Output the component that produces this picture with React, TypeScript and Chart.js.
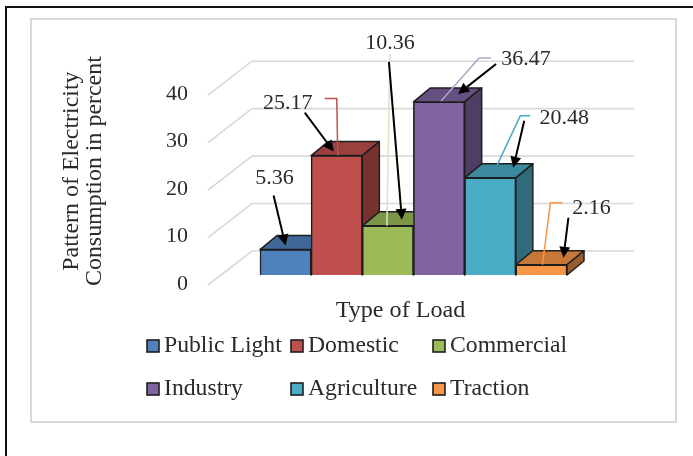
import React, { useEffect, useRef } from 'react';
import { Chart, registerables } from 'chart.js';

Chart.register(...registerables);

// ---------- data ----------
const categories = ['Public Light', 'Domestic', 'Commercial', 'Industry', 'Agriculture', 'Traction'];
const values = [5.36, 25.17, 10.36, 36.47, 20.48, 2.16];
const yTickValues = [0, 10, 20, 30, 40];
const xTitle = 'Type of Load';
const yTitle = ['Pattern of Electricity', 'Consumption in percent'];

// ---------- styles ----------
const colors = ['#4F81BD', '#C0504D', '#9BBB59', '#8064A2', '#4BACC6', '#F79646'];
const leaderColors = ['#4F81BD', '#C0504D', '#D9E4C4', '#B3A2C7', '#4BACC6', '#F79646'];
const FONT = 'Liberation Serif, Times New Roman, serif';
const TEXT = '#2a2a2a';
const DX = 17;
const DY = 14;

// callout offsets relative to the top-centre of each bar's front face
type Callout = { text: number[]; arrow: number[]; leader: number[][] | null };
const callouts: Callout[] = [
  { text: [-11, -71], arrow: [-12, -54, 0, -4], leader: null },
  { text: [-49, -52], arrow: [-32, -43, -3, -4], leader: [[-12, -57], [0, -57], [1, 0]] },
  { text: [2, -183], arrow: [1, -164, 14, -6], leader: [[2, -172], [-1, 0]] },
  { text: [87, -43], arrow: [57, -38, 19, -8], leader: [[52, -44], [40, -44], [2, -1]] },
  { text: [74, -60], arrow: [34, -57, 23, -10], leader: [[40, -62], [30, -62], [7, -13]] },
  { text: [50, -57], arrow: [27, -47, 22, -7], leader: [[21, -62], [9, -62], [1, 0]] },
];

function shade(hex: string, f: number) {
  const n = parseInt(hex.slice(1), 16);
  const r = Math.round(((n >> 16) & 255) * f);
  const g = Math.round(((n >> 8) & 255) * f);
  const b = Math.round((n & 255) * f);
  return `rgb(${r},${g},${b})`;
}

function drawArrow(ctx: CanvasRenderingContext2D, x1: number, y1: number, x2: number, y2: number) {
  const ang = Math.atan2(y2 - y1, x2 - x1);
  const hl = 11;
  const hw = 5.5;
  const bx = x2 - hl * Math.cos(ang);
  const by = y2 - hl * Math.sin(ang);
  ctx.save();
  ctx.strokeStyle = '#000';
  ctx.fillStyle = '#000';
  ctx.lineWidth = 2;
  ctx.beginPath();
  ctx.moveTo(x1, y1);
  ctx.lineTo(bx, by);
  ctx.stroke();
  ctx.beginPath();
  ctx.moveTo(x2, y2);
  ctx.lineTo(bx + hw * Math.sin(ang), by - hw * Math.cos(ang));
  ctx.lineTo(bx - hw * Math.sin(ang), by + hw * Math.cos(ang));
  ctx.closePath();
  ctx.fill();
  ctx.restore();
}

const threeDPlugin = {
  id: 'threeD',
  beforeDraw(chart: any) {
    const { ctx, width, height } = chart;
    ctx.save();
    ctx.fillStyle = '#fff';
    ctx.fillRect(0, 0, width, height);
    // outer frame
    ctx.strokeStyle = '#111';
    ctx.lineWidth = 2;
    ctx.beginPath();
    ctx.moveTo(6, height);
    ctx.lineTo(6, 7);
    ctx.lineTo(width, 7);
    ctx.stroke();
    // inner chart box
    ctx.strokeStyle = '#d9d9d9';
    ctx.lineWidth = 2;
    ctx.strokeRect(31, 19, 645, 403);
    ctx.restore();
  },
  beforeDatasetsDraw(chart: any) {
    const { ctx, chartArea, scales } = chart;
    const y = scales.y;
    const x0 = chartArea.left - 52;
    const x1 = chartArea.right + 67;
    ctx.save();
    ctx.strokeStyle = '#d9d9d9';
    ctx.lineWidth = 1.6;
    yTickValues.forEach((v) => {
      const yp = y.getPixelForValue(v);
      ctx.beginPath();
      ctx.moveTo(x0, yp + 10);
      ctx.lineTo(x0 + 44, yp - 24);
      ctx.lineTo(x1, yp - 24);
      ctx.stroke();
    });
    ctx.restore();
  },
  afterDatasetsDraw(chart: any) {
    const { ctx } = chart;
    const items: any[] = [];
    chart.data.datasets.forEach((ds: any, i: number) => {
      const el = chart.getDatasetMeta(i).data[0];
      if (el) items.push({ el, i });
    });
    items.sort((a, b) => a.el.x - b.el.x);
    ctx.save();
    items.forEach(({ el, i }) => {
      const { x, y, base, width } = el.getProps(['x', 'y', 'base', 'width'], true);
      const L = x - width / 2;
      const R = x + width / 2;
      el.draw(ctx);
      ctx.lineWidth = 1.5;
      ctx.strokeStyle = '#1e1e1e';
      ctx.lineJoin = 'round';
      // top face
      ctx.fillStyle = shade(colors[i], 0.8);
      ctx.beginPath();
      ctx.moveTo(L, y);
      ctx.lineTo(L + DX, y - DY);
      ctx.lineTo(R + DX, y - DY);
      ctx.lineTo(R, y);
      ctx.closePath();
      ctx.fill();
      ctx.stroke();
      // side face
      ctx.fillStyle = shade(colors[i], 0.62);
      ctx.beginPath();
      ctx.moveTo(R, y);
      ctx.lineTo(R + DX, y - DY);
      ctx.lineTo(R + DX, base - DY);
      ctx.lineTo(R, base);
      ctx.closePath();
      ctx.fill();
      ctx.stroke();
    });
    ctx.restore();
  },
  afterDraw(chart: any) {
    const { ctx, chartArea } = chart;
    ctx.save();
    // callouts
    chart.data.datasets.forEach((ds: any, i: number) => {
      const el = chart.getDatasetMeta(i).data[0];
      if (!el) return;
      const { x, y } = el.getProps(['x', 'y'], true);
      const c = callouts[i];
      if (c.leader) {
        ctx.strokeStyle = leaderColors[i];
        ctx.lineWidth = 1.5;
        ctx.beginPath();
        c.leader.forEach((p, k) => {
          if (k === 0) ctx.moveTo(x + p[0], y + p[1]);
          else ctx.lineTo(x + p[0], y + p[1]);
        });
        ctx.stroke();
      }
      drawArrow(ctx, x + c.arrow[0], y + c.arrow[1], x + c.arrow[2], y + c.arrow[3]);
      ctx.fillStyle = TEXT;
      ctx.font = `22px ${FONT}`;
      ctx.textAlign = 'center';
      ctx.textBaseline = 'middle';
      ctx.fillText(Number(ds.data[0]).toFixed(2), x + c.text[0], y + c.text[1]);
    });

    // axis titles
    ctx.fillStyle = TEXT;
    ctx.font = `23px ${FONT}`;
    ctx.textAlign = 'center';
    ctx.textBaseline = 'middle';
    ctx.save();
    ctx.translate((chartArea.left + chartArea.right) / 2 - 13, chartArea.bottom + 36);
    ctx.scale(1.05, 1);
    ctx.fillText(xTitle, 0, 0);
    ctx.restore();
    yTitle.forEach((line, k) => {
      ctx.save();
      ctx.translate(72 + k * 23, (chartArea.top + chartArea.bottom) / 2 - 9);
      ctx.rotate(-Math.PI / 2);
      ctx.scale(1.04, 1);
      ctx.fillText(line, 0, 0);
      ctx.restore();
    });

    // legend (3 columns x 2 rows)
    const colX = [147, 291, 433];
    const rowY = [346, 389];
    ctx.textAlign = 'left';
    chart.data.datasets.forEach((ds: any, i: number) => {
      const bx = colX[i % 3];
      const by = rowY[Math.floor(i / 3)];
      ctx.fillStyle = colors[i];
      ctx.fillRect(bx, by - 6, 12, 12);
      ctx.strokeStyle = '#1e1e1e';
      ctx.lineWidth = 1.6;
      ctx.strokeRect(bx, by - 6, 12, 12);
      ctx.fillStyle = TEXT;
      ctx.save();
      ctx.translate(bx + 17, by);
      ctx.scale(1.03, 1);
      ctx.fillText(ds.label, 0, 0);
      ctx.restore();
    });
    ctx.restore();
  },
};

export default function App() {
  const ref = useRef<HTMLCanvasElement>(null);
  useEffect(() => {
    if (!ref.current) return;
    const chart = new Chart(ref.current, {
      type: 'bar',
      data: {
        labels: [xTitle],
        datasets: categories.map((name, i) => ({
          label: name,
          data: [values[i]],
          backgroundColor: colors[i],
          borderColor: '#1e1e1e',
          borderWidth: 1.5,
          categoryPercentage: 1,
          barPercentage: 1,
        })),
      },
      options: {
        responsive: false,
        animation: false,
        devicePixelRatio: 1,
        layout: { padding: { left: 0, top: 79, right: 126, bottom: 181 } },
        plugins: { legend: { display: false }, tooltip: { enabled: false } },
        scales: {
          x: { display: false },
          y: {
            min: 0,
            max: 40,
            afterFit: (s: any) => {
              s.width = 260;
            },
            grid: { display: false, drawTicks: false },
            border: { display: false },
            ticks: {
              stepSize: 10,
              padding: 72,
              labelOffset: 9,
              color: TEXT,
              font: { family: FONT, size: 22 },
            },
          },
        },
      },
      plugins: [threeDPlugin],
    });
    return () => chart.destroy();
  }, []);
  return (
    <div style={{ position: 'fixed', left: 0, top: 0, width: 693, height: 456, overflow: 'hidden', background: '#fff' }}>
      <canvas ref={ref} width={693} height={456} style={{ display: 'block' }} />
    </div>
  );
}
